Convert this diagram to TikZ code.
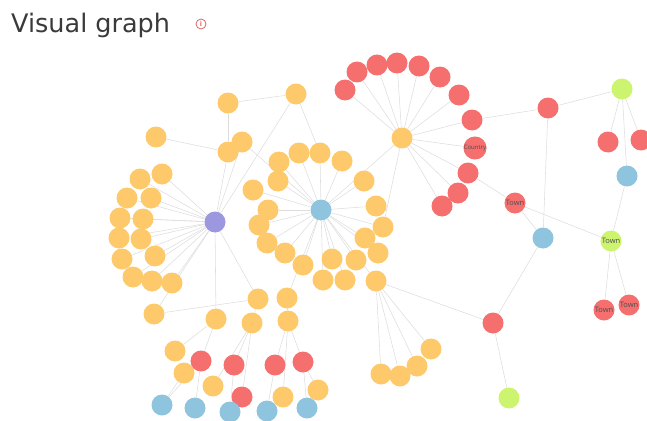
\documentclass[tikz,border=0pt]{standalone}
\usepackage{fontspec}
\setmainfont{Open Sans}
\newfontfamily\titlefont{DejaVu Sans}
\pgfdeclarelayer{bg}
\pgfsetlayers{bg,main}
\definecolor{cy}{HTML}{FDC96B}
\definecolor{cr}{HTML}{F56F6F}
\definecolor{cb}{HTML}{8EC4DE}
\definecolor{cg}{HTML}{CDF46E}
\definecolor{cp}{HTML}{9C98E0}
\definecolor{edge}{HTML}{DDDDDD}
\definecolor{ttl}{HTML}{3A3A3A}
\tikzset{
  gnode/.style={circle,inner sep=0pt,minimum size=21pt,font=\fontsize{6}{6}\selectfont,text=black!70},
  ynode/.style={gnode,fill=cy},
  rnode/.style={gnode,fill=cr},
  bnode/.style={gnode,fill=cb},
  gnnode/.style={gnode,fill=cg},
  pnode/.style={gnode,fill=cp},
  link/.style={draw=edge,line width=0.55pt},
}
\begin{document}
\begin{tikzpicture}[x=1pt,y=-1pt]
\path[use as bounding box] (0,0) rectangle (647,420);
\node[anchor=base west,text=ttl,font=\titlefont\fontsize{25.5}{25.5}\selectfont,inner sep=0pt] (title) at (11,33) {Visual graph};
\node[circle,draw=cr!90!black,line width=0.8pt,minimum size=10pt,inner sep=0pt,text=cr!90!black,font=\fontsize{7}{7}\selectfont\bfseries] (info) at (201,24) {i};
% hubs
\node[pnode] (P) at (215,222) {};
\node[bnode] (B) at (321,210) {};
\node[ynode] (F) at (402,138) {};
% purple cluster
\foreach \n/\x/\y in {a1/228/103,a2/296/94,a3/156/137,a4/242/142,a5/228/152,
  L1/162/174,L2/140/179,L3/127/198,L4/151/198,L5/120/218,L6/143/219,L7/119/238,L8/141/239,
  L9/122/259,L10/155/256,L11/133/277,L12/152/281,L13/172/283,L14/154/314,
  d1/216/319,d2/258/299,d3/287/298,d4/252/323,d5/288/321,d6/175/351,
  e1/184/373,e2/213/386,e3/283/397,e4/318/390,
  c1/299/153,c2/320/153,c3/342/161,c4/279/162,c5/278/181,c6/364/181,c7/253/190,c8/268/210,
  c9/376/206,c10/259/225,c11/383/227,c12/267/243,c13/365/238,c14/285/253,c15/378/253,
  c16/303/265,c17/332/259,c18/356/260,c19/323/280,c20/345/280,c21/376/281,
  h1/381/374,h2/400/376,h3/417/366,h4/431/349}
  \node[ynode] (\n) at (\x,\y) {};
\foreach \n/\x/\y in {r1/201/361,r2/234/365,r3/275/365,r4/303/362,r5/242/397,
  f1/345/90,f2/357/72,f3/377/65,f4/397/63,f5/419/66,f6/440/77,f7/459/95,f8/472/120,
  f10/468/173,f11/458/193,f12/442/206,R1/548/108,R2/608/142,R3/641/140,R4/493/323}
  \node[rnode] (\n) at (\x,\y) {};
\node[rnode] (f9) at (475,148) {Country};
\foreach \n/\x/\y in {b1/162/405,b2/195/408,b3/230/412,b4/267/411,b5/307/408,B2/627/176,B3/543/238}
  \node[bnode] (\n) at (\x,\y) {};
\node[gnnode] (G1) at (622,89) {};
\node[gnnode] (G2) at (509,398) {};
\node[gnnode,font=\fontsize{7.5}{7.5}\selectfont] (GT) at (611,241) {Town};
\node[rnode,font=\fontsize{7.5}{7.5}\selectfont] (RT) at (515,203) {Town};
\node[rnode,font=\fontsize{7.5}{7.5}\selectfont] (RT2) at (604,310) {Town};
\node[rnode,font=\fontsize{7.5}{7.5}\selectfont] (RT3) at (629,305) {Town};
\begin{pgfonlayer}{bg}
\foreach \t in {L1,L2,L3,L4,L5,L6,L7,L8,L9,L10,L11,L12,L13,L14,a5,a2,a4,d1,d2}
  \draw[link] (P) -- (\t);
\foreach \t in {c1,c2,c3,c4,c5,c6,c7,c8,c9,c10,c11,c12,c13,c14,c15,c16,c17,c18,c19,c20,c21,a4,d3}
  \draw[link] (B) -- (\t);
\foreach \t in {f1,f2,f3,f4,f5,f6,f7,f8,f9,f10,f11,f12,B,c11}
  \draw[link] (F) -- (\t);
\foreach \t in {h1,h2,h3,h4,R4}
  \draw[link] (c21) -- (\t);
\draw[link] (a1) -- (a2);
\draw[link] (a1) -- (a5);
\draw[link] (a3) -- (a5);
\draw[link] (a2) -- (c2);
\draw[link] (d2) -- (L14);
\draw[link] (d2) -- (d4);
\draw[link] (d3) -- (d5);
\draw[link] (d1) -- (r1);
\draw[link] (d1) -- (d6);
\draw[link] (d4) -- (r2);
\draw[link] (d4) -- (r5);
\draw[link] (d4) -- (e2);
\draw[link] (d5) -- (r3);
\draw[link] (d5) -- (r4);
\draw[link] (d5) -- (e3);
\draw[link] (r1) -- (b1);
\draw[link] (r1) -- (b2);
\draw[link] (e1) -- (b1);
\draw[link] (r2) -- (b3);
\draw[link] (r3) -- (b4);
\draw[link] (e3) -- (b4);
\draw[link] (r4) -- (b5);
\draw[link] (r4) -- (e4);
\draw[link] (R1) -- (f8);
\draw[link] (R1) -- (G1);
\draw[link] (R1) -- (B3);
\draw[link] (G1) -- (R2);
\draw[link] (G1) -- (R3);
\draw[link] (G1) -- (B2);
\draw[link] (B2) -- (GT);
\draw[link] (RT) -- (GT);
\draw[link] (RT) -- (B3);
\draw[link] (f10) -- (RT);
\draw[link] (GT) -- (RT2);
\draw[link] (GT) -- (RT3);
\draw[link] (B3) -- (R4);
\draw[link] (R4) -- (G2);
\end{pgfonlayer}
\end{tikzpicture}
\end{document}
